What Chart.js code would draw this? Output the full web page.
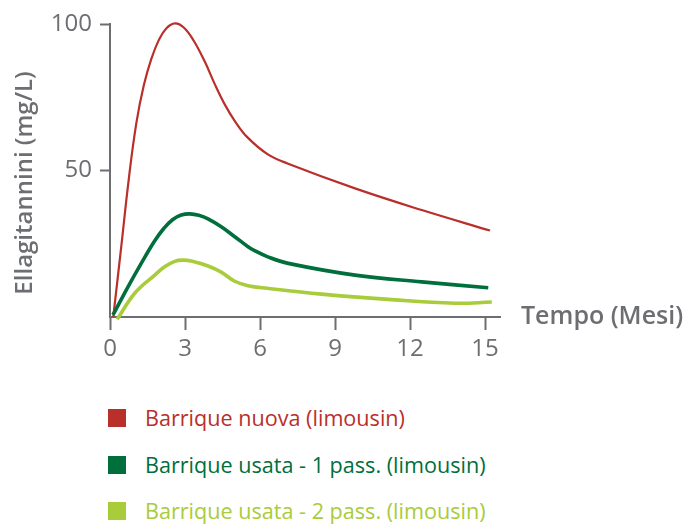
<!DOCTYPE html>
<html>
<head>
<meta charset="utf-8">
<script src="https://cdn.jsdelivr.net/npm/chart.js@4"></script>
<style>
  html, body { margin:0; padding:0; background:#fff; }
  #wrap { position:relative; width:688px; height:527px; font-family:"Open Sans", sans-serif; }
  #cv { position:absolute; left:0; top:0; }
  .leg { position:absolute; left:108px; display:flex; align-items:center; font-size:21.6px; white-space:nowrap; }
  .leg .sq { width:18px; height:18px; margin-right:19px; }
</style>
</head>
<body>
<div id="wrap">
  <canvas id="cv" width="688" height="380" style="width:688px;height:380px"></canvas>
  <div id="legend"></div>
</div>
<script>
const seriesNames = ["Barrique nuova (limousin)", "Barrique usata - 1 pass. (limousin)", "Barrique usata - 2 pass. (limousin)"];
const seriesColors = ["#b92f2a", "#006f3c", "#a8cc3a"];

const redX = [0.13, 0.45, 0.75, 1.05, 1.35, 1.65, 1.95, 2.25, 2.6, 2.95, 3.35, 3.8, 4.2, 4.6, 5.0, 5.5, 6.3, 7.1, 9.8, 12.47, 15.2];
const redY = [0, 24, 47, 66, 79, 88, 94.5, 98.5, 100.2, 98.8, 94.3, 87, 79.3, 72.4, 66.8, 61.3, 55.6, 52.4, 43.9, 36.5, 29.5];

const dgX = [0.12, 0.72, 1.25, 1.79, 2.15, 2.5, 2.85, 3.2, 3.55, 3.92, 4.45, 4.99, 5.52, 5.8, 6.29, 7.13, 9.8, 12.47, 15.13];
const dgY = [0.7, 10.3, 18.3, 26.0, 30.2, 33.2, 34.8, 35.2, 34.7, 33.5, 30.8, 27.4, 24.0, 22.6, 20.6, 18.3, 14.3, 12, 10];

const lgX = [0.29, 0.99, 1.79, 2.2, 2.59, 2.9, 3.25, 3.92, 4.45, 4.99, 5.52, 6.29, 8.47, 11.13, 13.8, 15.27];
const lgY = [-0.8, 8.1, 14.3, 17.2, 19.0, 19.4, 19.1, 17.4, 15.3, 12.2, 10.7, 9.8, 7.8, 6, 4.7, 5.1];

const xTicks = [0, 3, 6, 9, 12, 15];
const yTicks = [50, 100];
const xTitle = "Tempo (Mesi)";
const yTitle = "Ellagitannini (mg/L)";

const gray = "#6d6e71";
const toPts = (xs, ys) => xs.map((x, i) => ({x, y: ys[i]}));

const titlesPlugin = {
  id: 'titles',
  afterDraw(chart) {
    const ctx = chart.ctx;
    const a = chart.chartArea;
    ctx.save();
    ctx.fillStyle = gray;
    ctx.font = '600 25px "Open Sans", sans-serif';
    ctx.textBaseline = 'middle';
    ctx.textAlign = 'left';
    ctx.fillText(xTitle, a.right + 21, a.bottom + 0);
    ctx.translate(25, 183);
    ctx.rotate(-Math.PI / 2);
    ctx.textAlign = 'center';
    ctx.font = '600 24px "Open Sans", sans-serif';
    ctx.fillText(yTitle, 0, 0);
    ctx.restore();
  }
};

const datasets = [
  {data: toPts(redX, redY), borderColor: seriesColors[0], borderWidth: 2.2},
  {data: toPts(dgX, dgY), borderColor: seriesColors[1], borderWidth: 3.6},
  {data: toPts(lgX, lgY), borderColor: seriesColors[2], borderWidth: 3.6}
].map((d, i) => Object.assign(d, {label: seriesNames[i], pointRadius: 0, fill: false, tension: 0.4, clip: false}));

new Chart(document.getElementById('cv'), {
  type: 'line',
  data: { datasets: datasets.reverse() },
  options: {
    responsive: false,
    animation: false,
    devicePixelRatio: 1,
    layout: { padding: { left: 0, top: 24, right: 188, bottom: 0 } },
    plugins: { legend: { display: false }, tooltip: { enabled: false } },
    scales: {
      x: {
        type: 'linear', min: 0, max: 15.6,
        afterFit(s) { s.height = 63; },
        afterBuildTicks(s) { s.ticks = xTicks.map(v => ({value: v})); },
        border: { display: true, color: gray, width: 2 },
        grid: { display: true, drawOnChartArea: false, drawTicks: true, tickLength: 13, tickWidth: 2, tickColor: gray },
        ticks: { color: gray, font: { family: '"Open Sans", sans-serif', size: 24 }, padding: 5, maxRotation: 0, includeBounds: false }
      },
      y: {
        type: 'linear', min: 0, max: 100,
        afterFit(s) { s.width = 110; },
        afterBuildTicks(s) { s.ticks = yTicks.map(v => ({value: v})); },
        border: { display: true, color: gray, width: 2 },
        grid: { display: true, drawOnChartArea: false, drawTicks: true, tickLength: 10, tickWidth: 2, tickColor: gray },
        ticks: { color: gray, font: { family: '"Open Sans", sans-serif', size: 24 }, padding: 8 }
      }
    }
  },
  plugins: [titlesPlugin]
});

const legendEl = document.getElementById('legend');
const legTops = [408, 455, 501];
seriesNames.forEach((name, i) => {
  const row = document.createElement('div');
  row.className = 'leg';
  row.style.top = (legTops[i] - 5) + 'px';
  row.style.color = seriesColors[i];
  const sq = document.createElement('div');
  sq.className = 'sq';
  sq.style.background = seriesColors[i];
  const tx = document.createElement('span');
  tx.textContent = name;
  row.appendChild(sq);
  row.appendChild(tx);
  legendEl.appendChild(row);
});
</script>
</body>
</html>
